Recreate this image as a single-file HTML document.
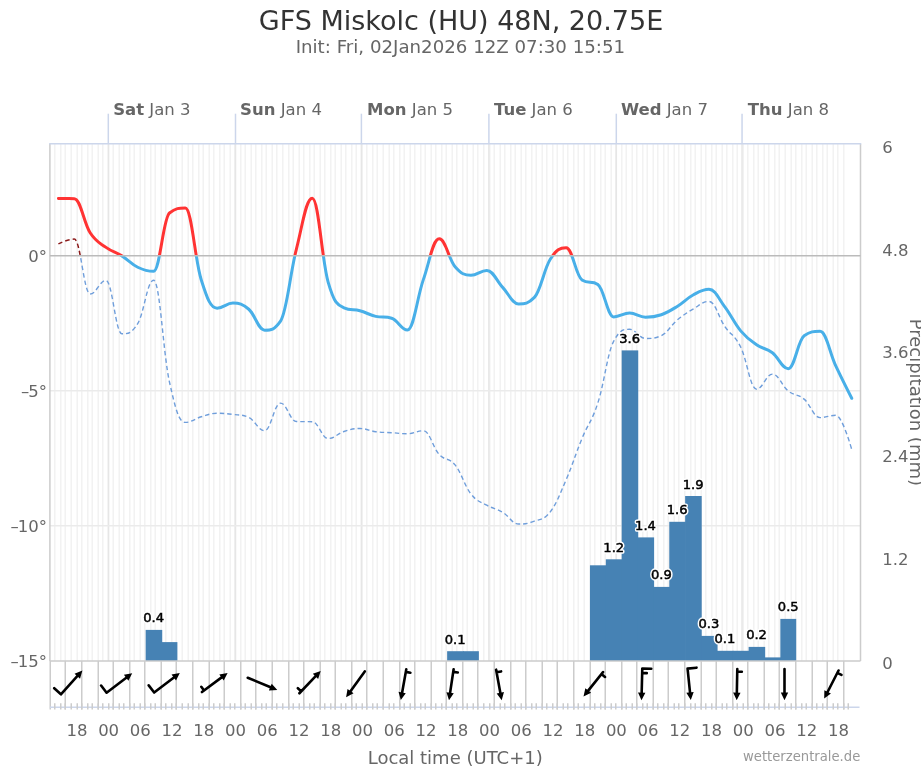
<!DOCTYPE html><html><head><meta charset="utf-8"><title>GFS Miskolc meteogram</title>
<style>html,body{margin:0;padding:0;background:#fff;overflow:hidden}svg{display:block;will-change:transform}text{font-family:"DejaVu Sans",Verdana,sans-serif}</style></head><body>
<svg width="921" height="768" viewBox="0 0 921 768">
<rect x="0" y="0" width="921" height="768" fill="#ffffff"/>
<defs><clipPath id="cpPos"><rect x="0" y="0" width="921" height="255.80"/></clipPath><clipPath id="cpNeg"><rect x="0" y="255.80" width="921" height="512.20"/></clipPath><clipPath id="cpPlot"><rect x="49.90" y="143.70" width="810.60" height="517.30"/></clipPath></defs>
<text x="461" y="30.1" text-anchor="middle" font-size="27" fill="#333333">GFS Miskolc (HU) 48N, 20.75E</text>
<text x="460.4" y="53" text-anchor="middle" font-size="18.2" fill="#666666">Init: Fri, 02Jan2026 12Z 07:30 15:51</text>
<path d="M54.75 143.70V661.00M60.75 143.70V661.00M65.25 143.70V661.00M71.25 143.70V661.00M77.25 143.70V661.00M81.75 143.70V661.00M87.75 143.70V661.00M92.25 143.70V661.00M98.25 143.70V661.00M102.75 143.70V661.00M108.75 143.70V661.00M113.25 143.70V661.00M119.25 143.70V661.00M123.75 143.70V661.00M129.75 143.70V661.00M134.25 143.70V661.00M140.25 143.70V661.00M144.75 143.70V661.00M150.75 143.70V661.00M155.25 143.70V661.00M161.25 143.70V661.00M165.75 143.70V661.00M171.75 143.70V661.00M176.25 143.70V661.00M182.25 143.70V661.00M188.25 143.70V661.00M192.75 143.70V661.00M198.75 143.70V661.00M203.25 143.70V661.00M209.25 143.70V661.00M213.75 143.70V661.00M219.75 143.70V661.00M224.25 143.70V661.00M230.25 143.70V661.00M234.75 143.70V661.00M240.75 143.70V661.00M245.25 143.70V661.00M251.25 143.70V661.00M255.75 143.70V661.00M261.75 143.70V661.00M266.25 143.70V661.00M272.25 143.70V661.00M276.75 143.70V661.00M282.75 143.70V661.00M288.75 143.70V661.00M293.25 143.70V661.00M299.25 143.70V661.00M303.75 143.70V661.00M309.75 143.70V661.00M314.25 143.70V661.00M320.25 143.70V661.00M324.75 143.70V661.00M330.75 143.70V661.00M335.25 143.70V661.00M341.25 143.70V661.00M345.75 143.70V661.00M351.75 143.70V661.00M356.25 143.70V661.00M362.25 143.70V661.00M366.75 143.70V661.00M372.75 143.70V661.00M377.25 143.70V661.00M383.25 143.70V661.00M389.25 143.70V661.00M393.75 143.70V661.00M399.75 143.70V661.00M404.25 143.70V661.00M410.25 143.70V661.00M414.75 143.70V661.00M420.75 143.70V661.00M425.25 143.70V661.00M431.25 143.70V661.00M435.75 143.70V661.00M441.75 143.70V661.00M446.25 143.70V661.00M452.25 143.70V661.00M456.75 143.70V661.00M462.75 143.70V661.00M467.25 143.70V661.00M473.25 143.70V661.00M477.75 143.70V661.00M483.75 143.70V661.00M489.75 143.70V661.00M494.25 143.70V661.00M500.25 143.70V661.00M504.75 143.70V661.00M510.75 143.70V661.00M515.25 143.70V661.00M521.25 143.70V661.00M525.75 143.70V661.00M531.75 143.70V661.00M536.25 143.70V661.00M542.25 143.70V661.00M546.75 143.70V661.00M552.75 143.70V661.00M557.25 143.70V661.00M563.25 143.70V661.00M567.75 143.70V661.00M573.75 143.70V661.00M578.25 143.70V661.00M584.25 143.70V661.00M590.25 143.70V661.00M594.75 143.70V661.00M600.75 143.70V661.00M605.25 143.70V661.00M611.25 143.70V661.00M615.75 143.70V661.00M621.75 143.70V661.00M626.25 143.70V661.00M632.25 143.70V661.00M636.75 143.70V661.00M642.75 143.70V661.00M647.25 143.70V661.00M653.25 143.70V661.00M657.75 143.70V661.00M663.75 143.70V661.00M668.25 143.70V661.00M674.25 143.70V661.00M678.75 143.70V661.00M684.75 143.70V661.00M690.75 143.70V661.00M695.25 143.70V661.00M701.25 143.70V661.00M705.75 143.70V661.00M711.75 143.70V661.00M716.25 143.70V661.00M722.25 143.70V661.00M726.75 143.70V661.00M732.75 143.70V661.00M737.25 143.70V661.00M743.25 143.70V661.00M747.75 143.70V661.00M753.75 143.70V661.00M758.25 143.70V661.00M764.25 143.70V661.00M768.75 143.70V661.00M774.75 143.70V661.00M779.25 143.70V661.00M785.25 143.70V661.00M791.25 143.70V661.00M795.75 143.70V661.00M801.75 143.70V661.00M806.25 143.70V661.00M812.25 143.70V661.00M816.75 143.70V661.00M822.75 143.70V661.00M827.25 143.70V661.00M833.25 143.70V661.00M837.75 143.70V661.00M843.75 143.70V661.00" stroke="#f2f2f2" stroke-width="1.5" fill="none"/>
<path d="M108.30 143.70V661.00M235.50 143.70V661.00M361.40 143.70V661.00M488.90 143.70V661.00M616.30 143.70V661.00M742.05 143.70V661.00" stroke="#e6e6e6" stroke-width="1.5" fill="none"/>
<path d="M49.90 390.75H860.50M49.90 525.75H860.50" stroke="#ebebeb" stroke-width="1.5" fill="none"/>
<rect x="145.66" y="629.90" width="16.57" height="31.10" fill="#4682b4"/>
<rect x="161.53" y="642.10" width="15.87" height="18.90" fill="#4682b4"/>
<rect x="447.14" y="651.20" width="16.57" height="9.80" fill="#4682b4"/>
<rect x="463.00" y="651.20" width="15.87" height="9.80" fill="#4682b4"/>
<rect x="589.94" y="565.30" width="16.57" height="95.70" fill="#4682b4"/>
<rect x="605.81" y="559.30" width="16.57" height="101.70" fill="#4682b4"/>
<rect x="621.67" y="350.40" width="16.57" height="310.60" fill="#4682b4"/>
<rect x="637.54" y="537.40" width="16.57" height="123.60" fill="#4682b4"/>
<rect x="653.41" y="586.90" width="16.57" height="74.10" fill="#4682b4"/>
<rect x="669.27" y="521.80" width="16.57" height="139.20" fill="#4682b4"/>
<rect x="685.14" y="496.00" width="16.57" height="165.00" fill="#4682b4"/>
<rect x="701.01" y="635.90" width="16.57" height="25.10" fill="#4682b4"/>
<rect x="716.88" y="650.80" width="16.57" height="10.20" fill="#4682b4"/>
<rect x="732.74" y="650.80" width="16.57" height="10.20" fill="#4682b4"/>
<rect x="748.61" y="646.90" width="16.57" height="14.10" fill="#4682b4"/>
<rect x="764.48" y="657.40" width="16.57" height="3.60" fill="#4682b4"/>
<rect x="780.34" y="618.90" width="15.87" height="42.10" fill="#4682b4"/>
<path d="M49.90 143.70V661.00M860.50 143.70V661.00M49.90 661.00H860.50" stroke="#cccccc" stroke-width="1.5" fill="none"/>
<g clip-path="url(#cpPlot)">
<path d="M 58.39 243.90 C 58.39 243.90 67.91 239.05 74.26 239.05 C 80.61 239.05 83.78 294.00 90.13 294.00 C 96.48 294.00 99.65 280.43 106.00 280.43 C 112.34 280.43 115.52 333.80 121.86 333.80 C 128.21 333.80 131.38 333.80 137.73 323.51 C 144.08 313.22 147.25 280.22 153.60 280.22 C 159.94 280.22 163.12 353.55 169.46 381.98 C 175.81 410.41 178.98 422.38 185.33 422.38 C 191.68 422.38 194.85 418.62 201.20 416.79 C 207.54 414.96 210.72 413.22 217.06 413.22 C 223.41 413.22 226.58 413.60 232.93 414.44 C 239.28 415.28 242.45 414.44 248.80 417.43 C 255.15 420.41 258.32 430.68 264.67 430.68 C 271.01 430.68 274.19 403.10 280.53 403.10 C 286.88 403.10 290.05 421.37 296.40 421.54 C 302.75 421.71 305.92 421.54 312.27 421.71 C 318.61 421.88 321.79 438.53 328.13 438.53 C 334.48 438.53 337.65 433.48 344.00 431.47 C 350.35 429.45 353.52 428.47 359.87 428.47 C 366.21 428.47 369.39 430.87 375.73 431.71 C 382.08 432.55 385.25 432.26 391.60 432.68 C 397.95 433.09 401.12 433.79 407.47 433.79 C 413.82 433.79 416.99 430.74 423.34 430.74 C 429.68 430.74 432.86 447.65 439.20 454.48 C 445.55 461.31 448.72 456.99 455.07 464.89 C 461.42 472.79 464.59 485.91 470.94 493.97 C 477.28 502.04 480.46 501.55 486.80 505.21 C 493.15 508.86 496.32 508.47 502.67 512.24 C 509.02 516.01 512.19 524.07 518.54 524.07 C 524.88 524.07 528.06 523.58 534.40 521.14 C 540.75 518.70 543.92 520.14 550.27 511.85 C 556.62 503.56 559.79 494.39 566.14 479.70 C 572.49 465.02 575.66 453.79 582.01 438.42 C 588.35 423.05 591.53 422.33 597.87 402.87 C 604.22 383.41 607.39 352.93 613.74 341.12 C 620.09 329.30 623.26 329.30 629.61 329.30 C 635.95 329.30 639.13 338.48 645.47 338.48 C 651.82 338.48 654.99 338.48 661.34 335.62 C 667.69 332.75 670.86 325.36 677.21 320.06 C 683.55 314.76 686.73 312.86 693.07 309.12 C 699.42 305.39 702.59 301.40 708.94 301.40 C 715.29 301.40 718.46 317.33 724.81 326.45 C 731.16 335.58 734.33 334.50 740.68 347.05 C 747.02 359.60 750.20 389.20 756.54 389.20 C 762.89 389.20 766.06 374.11 772.41 374.11 C 778.76 374.11 781.93 386.07 788.28 391.08 C 794.62 396.09 797.80 393.83 804.14 399.14 C 810.49 404.45 813.66 417.63 820.01 417.63 C 826.36 417.63 829.53 415.25 835.88 415.25 C 842.22 415.25 851.74 449.50 851.74 449.50" clip-path="url(#cpPos)" stroke="#8b1a1a" stroke-width="1.5" stroke-dasharray="4.5 3" fill="none"/>
<path d="M 58.39 243.90 C 58.39 243.90 67.91 239.05 74.26 239.05 C 80.61 239.05 83.78 294.00 90.13 294.00 C 96.48 294.00 99.65 280.43 106.00 280.43 C 112.34 280.43 115.52 333.80 121.86 333.80 C 128.21 333.80 131.38 333.80 137.73 323.51 C 144.08 313.22 147.25 280.22 153.60 280.22 C 159.94 280.22 163.12 353.55 169.46 381.98 C 175.81 410.41 178.98 422.38 185.33 422.38 C 191.68 422.38 194.85 418.62 201.20 416.79 C 207.54 414.96 210.72 413.22 217.06 413.22 C 223.41 413.22 226.58 413.60 232.93 414.44 C 239.28 415.28 242.45 414.44 248.80 417.43 C 255.15 420.41 258.32 430.68 264.67 430.68 C 271.01 430.68 274.19 403.10 280.53 403.10 C 286.88 403.10 290.05 421.37 296.40 421.54 C 302.75 421.71 305.92 421.54 312.27 421.71 C 318.61 421.88 321.79 438.53 328.13 438.53 C 334.48 438.53 337.65 433.48 344.00 431.47 C 350.35 429.45 353.52 428.47 359.87 428.47 C 366.21 428.47 369.39 430.87 375.73 431.71 C 382.08 432.55 385.25 432.26 391.60 432.68 C 397.95 433.09 401.12 433.79 407.47 433.79 C 413.82 433.79 416.99 430.74 423.34 430.74 C 429.68 430.74 432.86 447.65 439.20 454.48 C 445.55 461.31 448.72 456.99 455.07 464.89 C 461.42 472.79 464.59 485.91 470.94 493.97 C 477.28 502.04 480.46 501.55 486.80 505.21 C 493.15 508.86 496.32 508.47 502.67 512.24 C 509.02 516.01 512.19 524.07 518.54 524.07 C 524.88 524.07 528.06 523.58 534.40 521.14 C 540.75 518.70 543.92 520.14 550.27 511.85 C 556.62 503.56 559.79 494.39 566.14 479.70 C 572.49 465.02 575.66 453.79 582.01 438.42 C 588.35 423.05 591.53 422.33 597.87 402.87 C 604.22 383.41 607.39 352.93 613.74 341.12 C 620.09 329.30 623.26 329.30 629.61 329.30 C 635.95 329.30 639.13 338.48 645.47 338.48 C 651.82 338.48 654.99 338.48 661.34 335.62 C 667.69 332.75 670.86 325.36 677.21 320.06 C 683.55 314.76 686.73 312.86 693.07 309.12 C 699.42 305.39 702.59 301.40 708.94 301.40 C 715.29 301.40 718.46 317.33 724.81 326.45 C 731.16 335.58 734.33 334.50 740.68 347.05 C 747.02 359.60 750.20 389.20 756.54 389.20 C 762.89 389.20 766.06 374.11 772.41 374.11 C 778.76 374.11 781.93 386.07 788.28 391.08 C 794.62 396.09 797.80 393.83 804.14 399.14 C 810.49 404.45 813.66 417.63 820.01 417.63 C 826.36 417.63 829.53 415.25 835.88 415.25 C 842.22 415.25 851.74 449.50 851.74 449.50" clip-path="url(#cpNeg)" stroke="#6f9edb" stroke-width="1.4" stroke-dasharray="4.5 3" fill="none"/>
<path d="M 58.39 198.60 C 58.39 198.60 67.91 198.60 74.26 198.65 C 80.61 198.69 83.78 223.00 90.13 232.75 C 96.48 242.50 99.65 242.77 106.00 247.40 C 112.34 252.02 115.52 251.89 121.86 255.86 C 128.21 259.84 131.38 264.17 137.73 267.25 C 144.08 270.34 147.25 271.29 153.60 271.29 C 159.94 271.29 163.12 217.86 169.46 212.94 C 175.81 208.03 178.98 208.03 185.33 208.03 C 191.68 208.03 194.85 259.66 201.20 279.69 C 207.54 299.71 210.72 308.15 217.06 308.15 C 223.41 308.15 226.58 302.97 232.93 302.97 C 239.28 302.97 242.45 303.80 248.80 309.24 C 255.15 314.67 258.32 330.16 264.67 330.16 C 271.01 330.16 274.19 330.16 280.53 321.12 C 286.88 312.08 290.05 273.62 296.40 249.04 C 302.75 224.46 305.92 198.23 312.27 198.23 C 318.61 198.23 321.79 260.14 328.13 282.08 C 334.48 304.02 337.65 305.03 344.00 307.91 C 350.35 310.78 353.52 309.09 359.87 310.78 C 366.21 312.47 369.39 314.86 375.73 316.34 C 382.08 317.82 385.25 316.34 391.60 318.19 C 397.95 320.04 401.12 329.90 407.47 329.90 C 413.82 329.90 416.99 297.84 423.34 279.63 C 429.68 261.42 432.86 238.85 439.20 238.85 C 445.55 238.85 448.72 259.43 455.07 266.72 C 461.42 274.01 464.59 275.28 470.94 275.28 C 477.28 275.28 480.46 270.39 486.80 270.39 C 493.15 270.39 496.32 280.70 502.67 287.39 C 509.02 294.09 512.19 303.88 518.54 303.88 C 524.88 303.88 528.06 303.88 534.40 297.40 C 540.75 290.93 543.92 269.17 550.27 259.25 C 556.62 249.33 559.79 247.82 566.14 247.82 C 572.49 247.82 575.66 275.62 582.01 280.02 C 588.35 284.42 591.53 280.02 597.87 284.42 C 604.22 288.81 607.39 316.89 613.74 316.89 C 620.09 316.89 623.26 313.07 629.61 313.07 C 635.95 313.07 639.13 317.13 645.47 317.13 C 651.82 317.13 654.99 316.85 661.34 314.71 C 667.69 312.57 670.86 310.37 677.21 306.43 C 683.55 302.50 686.73 298.47 693.07 295.04 C 699.42 291.60 702.59 289.26 708.94 289.26 C 715.29 289.26 718.46 298.54 724.81 306.86 C 731.16 315.18 734.33 323.28 740.68 330.85 C 747.02 338.42 750.20 340.35 756.54 344.73 C 762.89 349.11 766.06 347.96 772.41 352.75 C 778.76 357.55 781.93 368.70 788.28 368.70 C 794.62 368.70 797.80 340.34 804.14 335.81 C 810.49 331.29 813.66 331.29 820.01 331.29 C 826.36 331.29 829.53 352.74 835.88 366.15 C 842.22 379.55 851.74 398.30 851.74 398.30" clip-path="url(#cpPos)" stroke="#ff3333" stroke-width="3" stroke-linecap="round" stroke-linejoin="round" fill="none"/>
<path d="M 58.39 198.60 C 58.39 198.60 67.91 198.60 74.26 198.65 C 80.61 198.69 83.78 223.00 90.13 232.75 C 96.48 242.50 99.65 242.77 106.00 247.40 C 112.34 252.02 115.52 251.89 121.86 255.86 C 128.21 259.84 131.38 264.17 137.73 267.25 C 144.08 270.34 147.25 271.29 153.60 271.29 C 159.94 271.29 163.12 217.86 169.46 212.94 C 175.81 208.03 178.98 208.03 185.33 208.03 C 191.68 208.03 194.85 259.66 201.20 279.69 C 207.54 299.71 210.72 308.15 217.06 308.15 C 223.41 308.15 226.58 302.97 232.93 302.97 C 239.28 302.97 242.45 303.80 248.80 309.24 C 255.15 314.67 258.32 330.16 264.67 330.16 C 271.01 330.16 274.19 330.16 280.53 321.12 C 286.88 312.08 290.05 273.62 296.40 249.04 C 302.75 224.46 305.92 198.23 312.27 198.23 C 318.61 198.23 321.79 260.14 328.13 282.08 C 334.48 304.02 337.65 305.03 344.00 307.91 C 350.35 310.78 353.52 309.09 359.87 310.78 C 366.21 312.47 369.39 314.86 375.73 316.34 C 382.08 317.82 385.25 316.34 391.60 318.19 C 397.95 320.04 401.12 329.90 407.47 329.90 C 413.82 329.90 416.99 297.84 423.34 279.63 C 429.68 261.42 432.86 238.85 439.20 238.85 C 445.55 238.85 448.72 259.43 455.07 266.72 C 461.42 274.01 464.59 275.28 470.94 275.28 C 477.28 275.28 480.46 270.39 486.80 270.39 C 493.15 270.39 496.32 280.70 502.67 287.39 C 509.02 294.09 512.19 303.88 518.54 303.88 C 524.88 303.88 528.06 303.88 534.40 297.40 C 540.75 290.93 543.92 269.17 550.27 259.25 C 556.62 249.33 559.79 247.82 566.14 247.82 C 572.49 247.82 575.66 275.62 582.01 280.02 C 588.35 284.42 591.53 280.02 597.87 284.42 C 604.22 288.81 607.39 316.89 613.74 316.89 C 620.09 316.89 623.26 313.07 629.61 313.07 C 635.95 313.07 639.13 317.13 645.47 317.13 C 651.82 317.13 654.99 316.85 661.34 314.71 C 667.69 312.57 670.86 310.37 677.21 306.43 C 683.55 302.50 686.73 298.47 693.07 295.04 C 699.42 291.60 702.59 289.26 708.94 289.26 C 715.29 289.26 718.46 298.54 724.81 306.86 C 731.16 315.18 734.33 323.28 740.68 330.85 C 747.02 338.42 750.20 340.35 756.54 344.73 C 762.89 349.11 766.06 347.96 772.41 352.75 C 778.76 357.55 781.93 368.70 788.28 368.70 C 794.62 368.70 797.80 340.34 804.14 335.81 C 810.49 331.29 813.66 331.29 820.01 331.29 C 826.36 331.29 829.53 352.74 835.88 366.15 C 842.22 379.55 851.74 398.30 851.74 398.30" clip-path="url(#cpNeg)" stroke="#48afe8" stroke-width="3" stroke-linecap="round" stroke-linejoin="round" fill="none"/>
</g>
<path d="M49.90 255.80H860.50" stroke="#bbbbbb" stroke-width="1.5"/>
<text x="153.60" y="622.40" text-anchor="middle" font-family="DejaVu Sans Condensed, DejaVu Sans, sans-serif" font-size="13.1" fill="#fff" stroke="#fff" stroke-width="3.4" stroke-linejoin="round">0.4</text>
<text x="153.60" y="622.40" text-anchor="middle" font-family="DejaVu Sans Condensed, DejaVu Sans, sans-serif" font-size="13.1" fill="#000" stroke="#000" stroke-width="0.5">0.4</text>
<text x="455.07" y="643.70" text-anchor="middle" font-family="DejaVu Sans Condensed, DejaVu Sans, sans-serif" font-size="13.1" fill="#fff" stroke="#fff" stroke-width="3.4" stroke-linejoin="round">0.1</text>
<text x="455.07" y="643.70" text-anchor="middle" font-family="DejaVu Sans Condensed, DejaVu Sans, sans-serif" font-size="13.1" fill="#000" stroke="#000" stroke-width="0.5">0.1</text>
<text x="613.74" y="551.80" text-anchor="middle" font-family="DejaVu Sans Condensed, DejaVu Sans, sans-serif" font-size="13.1" fill="#fff" stroke="#fff" stroke-width="3.4" stroke-linejoin="round">1.2</text>
<text x="613.74" y="551.80" text-anchor="middle" font-family="DejaVu Sans Condensed, DejaVu Sans, sans-serif" font-size="13.1" fill="#000" stroke="#000" stroke-width="0.5">1.2</text>
<text x="629.61" y="342.90" text-anchor="middle" font-family="DejaVu Sans Condensed, DejaVu Sans, sans-serif" font-size="13.1" fill="#fff" stroke="#fff" stroke-width="3.4" stroke-linejoin="round">3.6</text>
<text x="629.61" y="342.90" text-anchor="middle" font-family="DejaVu Sans Condensed, DejaVu Sans, sans-serif" font-size="13.1" fill="#000" stroke="#000" stroke-width="0.5">3.6</text>
<text x="645.47" y="529.90" text-anchor="middle" font-family="DejaVu Sans Condensed, DejaVu Sans, sans-serif" font-size="13.1" fill="#fff" stroke="#fff" stroke-width="3.4" stroke-linejoin="round">1.4</text>
<text x="645.47" y="529.90" text-anchor="middle" font-family="DejaVu Sans Condensed, DejaVu Sans, sans-serif" font-size="13.1" fill="#000" stroke="#000" stroke-width="0.5">1.4</text>
<text x="661.34" y="579.40" text-anchor="middle" font-family="DejaVu Sans Condensed, DejaVu Sans, sans-serif" font-size="13.1" fill="#fff" stroke="#fff" stroke-width="3.4" stroke-linejoin="round">0.9</text>
<text x="661.34" y="579.40" text-anchor="middle" font-family="DejaVu Sans Condensed, DejaVu Sans, sans-serif" font-size="13.1" fill="#000" stroke="#000" stroke-width="0.5">0.9</text>
<text x="677.21" y="514.30" text-anchor="middle" font-family="DejaVu Sans Condensed, DejaVu Sans, sans-serif" font-size="13.1" fill="#fff" stroke="#fff" stroke-width="3.4" stroke-linejoin="round">1.6</text>
<text x="677.21" y="514.30" text-anchor="middle" font-family="DejaVu Sans Condensed, DejaVu Sans, sans-serif" font-size="13.1" fill="#000" stroke="#000" stroke-width="0.5">1.6</text>
<text x="693.07" y="488.50" text-anchor="middle" font-family="DejaVu Sans Condensed, DejaVu Sans, sans-serif" font-size="13.1" fill="#fff" stroke="#fff" stroke-width="3.4" stroke-linejoin="round">1.9</text>
<text x="693.07" y="488.50" text-anchor="middle" font-family="DejaVu Sans Condensed, DejaVu Sans, sans-serif" font-size="13.1" fill="#000" stroke="#000" stroke-width="0.5">1.9</text>
<text x="708.94" y="628.40" text-anchor="middle" font-family="DejaVu Sans Condensed, DejaVu Sans, sans-serif" font-size="13.1" fill="#fff" stroke="#fff" stroke-width="3.4" stroke-linejoin="round">0.3</text>
<text x="708.94" y="628.40" text-anchor="middle" font-family="DejaVu Sans Condensed, DejaVu Sans, sans-serif" font-size="13.1" fill="#000" stroke="#000" stroke-width="0.5">0.3</text>
<text x="724.81" y="643.30" text-anchor="middle" font-family="DejaVu Sans Condensed, DejaVu Sans, sans-serif" font-size="13.1" fill="#fff" stroke="#fff" stroke-width="3.4" stroke-linejoin="round">0.1</text>
<text x="724.81" y="643.30" text-anchor="middle" font-family="DejaVu Sans Condensed, DejaVu Sans, sans-serif" font-size="13.1" fill="#000" stroke="#000" stroke-width="0.5">0.1</text>
<text x="756.54" y="639.40" text-anchor="middle" font-family="DejaVu Sans Condensed, DejaVu Sans, sans-serif" font-size="13.1" fill="#fff" stroke="#fff" stroke-width="3.4" stroke-linejoin="round">0.2</text>
<text x="756.54" y="639.40" text-anchor="middle" font-family="DejaVu Sans Condensed, DejaVu Sans, sans-serif" font-size="13.1" fill="#000" stroke="#000" stroke-width="0.5">0.2</text>
<text x="788.28" y="611.40" text-anchor="middle" font-family="DejaVu Sans Condensed, DejaVu Sans, sans-serif" font-size="13.1" fill="#fff" stroke="#fff" stroke-width="3.4" stroke-linejoin="round">0.5</text>
<text x="788.28" y="611.40" text-anchor="middle" font-family="DejaVu Sans Condensed, DejaVu Sans, sans-serif" font-size="13.1" fill="#000" stroke="#000" stroke-width="0.5">0.5</text>
<path d="M49.15 143.70H861.25" stroke="#ccd6eb" stroke-width="1.5"/>
<path d="M108.30 113.7V143.70" stroke="#ccd6eb" stroke-width="1.5"/>
<text x="113.14" y="115" font-size="16.5" fill="#666666"><tspan font-weight="bold">Sat</tspan> Jan 3</text>
<path d="M235.50 113.7V143.70" stroke="#ccd6eb" stroke-width="1.5"/>
<text x="240.08" y="115" font-size="16.5" fill="#666666"><tspan font-weight="bold">Sun</tspan> Jan 4</text>
<path d="M361.40 113.7V143.70" stroke="#ccd6eb" stroke-width="1.5"/>
<text x="367.01" y="115" font-size="16.5" fill="#666666"><tspan font-weight="bold">Mon</tspan> Jan 5</text>
<path d="M488.90 113.7V143.70" stroke="#ccd6eb" stroke-width="1.5"/>
<text x="493.95" y="115" font-size="16.5" fill="#666666"><tspan font-weight="bold">Tue</tspan> Jan 6</text>
<path d="M616.30 113.7V143.70" stroke="#ccd6eb" stroke-width="1.5"/>
<text x="620.88" y="115" font-size="16.5" fill="#666666"><tspan font-weight="bold">Wed</tspan> Jan 7</text>
<path d="M742.05 113.7V143.70" stroke="#ccd6eb" stroke-width="1.5"/>
<text x="747.82" y="115" font-size="16.5" fill="#666666"><tspan font-weight="bold">Thu</tspan> Jan 8</text>
<text x="47.1" y="261.70" text-anchor="end" font-size="16.5" fill="#666666">0°</text>
<text x="47.1" y="396.75" text-anchor="end" font-size="16.5" fill="#666666">–<tspan dx="-1">5°</tspan></text>
<text x="47.1" y="531.80" text-anchor="end" font-size="16.5" fill="#666666">–<tspan dx="-1">10°</tspan></text>
<text x="47.1" y="666.85" text-anchor="end" font-size="16.5" fill="#666666">–<tspan dx="-1">15°</tspan></text>
<text x="882.2" y="152.75" font-size="16.5" fill="#666666">6</text>
<text x="882.2" y="255.85" font-size="16.5" fill="#666666">4.8</text>
<text x="882.2" y="358.25" font-size="16.5" fill="#666666">3.6</text>
<text x="882.2" y="461.65" font-size="16.5" fill="#666666">2.4</text>
<text x="882.2" y="564.65" font-size="16.5" fill="#666666">1.2</text>
<text x="882.2" y="669.05" font-size="16.5" fill="#666666">0</text>
<text transform="translate(909.6 402.3) rotate(90)" text-anchor="middle" font-size="18" fill="#666666">Precipitation (mm)</text>
<path d="M50.25 661.00V709.50M65.25 661.00V709.50M81.75 661.00V709.50M98.25 661.00V709.50M113.25 661.00V709.50M129.75 661.00V709.50M144.75 661.00V709.50M161.25 661.00V709.50M176.25 661.00V709.50M192.75 661.00V709.50M209.25 661.00V709.50M224.25 661.00V709.50M240.75 661.00V709.50M255.75 661.00V709.50M272.25 661.00V709.50M288.75 661.00V709.50M303.75 661.00V709.50M320.25 661.00V709.50M335.25 661.00V709.50M351.75 661.00V709.50M366.75 661.00V709.50M383.25 661.00V709.50M399.75 661.00V709.50M414.75 661.00V709.50M431.25 661.00V709.50M446.25 661.00V709.50M462.75 661.00V709.50M477.75 661.00V709.50M494.25 661.00V709.50M510.75 661.00V709.50M525.75 661.00V709.50M542.25 661.00V709.50M557.25 661.00V709.50M573.75 661.00V709.50M590.25 661.00V709.50M605.25 661.00V709.50M621.75 661.00V709.50M636.75 661.00V709.50M653.25 661.00V709.50M668.25 661.00V709.50M684.75 661.00V709.50M701.25 661.00V709.50M716.25 661.00V709.50M732.75 661.00V709.50M747.75 661.00V709.50M764.25 661.00V709.50M779.25 661.00V709.50M795.75 661.00V709.50M812.25 661.00V709.50M827.25 661.00V709.50M843.75 661.00V709.50" stroke="#cccccc" stroke-width="1.5" fill="none"/>
<path d="M49.90 707.3H859.5" stroke="#ccd6eb" stroke-width="1.5"/>
<path d="M54.75 703.3V709.6M60.75 703.3V709.6M65.25 703.3V709.6M71.25 703.3V709.6M77.25 703.3V709.6M81.75 703.3V709.6M87.75 703.3V709.6M92.25 703.3V709.6M98.25 703.3V709.6M102.75 703.3V709.6M108.75 703.3V709.6M113.25 703.3V709.6M119.25 703.3V709.6M123.75 703.3V709.6M129.75 703.3V709.6M134.25 703.3V709.6M140.25 703.3V709.6M144.75 703.3V709.6M150.75 703.3V709.6M155.25 703.3V709.6M161.25 703.3V709.6M165.75 703.3V709.6M171.75 703.3V709.6M176.25 703.3V709.6M182.25 703.3V709.6M188.25 703.3V709.6M192.75 703.3V709.6M198.75 703.3V709.6M203.25 703.3V709.6M209.25 703.3V709.6M213.75 703.3V709.6M219.75 703.3V709.6M224.25 703.3V709.6M230.25 703.3V709.6M234.75 703.3V709.6M240.75 703.3V709.6M245.25 703.3V709.6M251.25 703.3V709.6M255.75 703.3V709.6M261.75 703.3V709.6M266.25 703.3V709.6M272.25 703.3V709.6M276.75 703.3V709.6M282.75 703.3V709.6M288.75 703.3V709.6M293.25 703.3V709.6M299.25 703.3V709.6M303.75 703.3V709.6M309.75 703.3V709.6M314.25 703.3V709.6M320.25 703.3V709.6M324.75 703.3V709.6M330.75 703.3V709.6M335.25 703.3V709.6M341.25 703.3V709.6M345.75 703.3V709.6M351.75 703.3V709.6M356.25 703.3V709.6M362.25 703.3V709.6M366.75 703.3V709.6M372.75 703.3V709.6M377.25 703.3V709.6M383.25 703.3V709.6M389.25 703.3V709.6M393.75 703.3V709.6M399.75 703.3V709.6M404.25 703.3V709.6M410.25 703.3V709.6M414.75 703.3V709.6M420.75 703.3V709.6M425.25 703.3V709.6M431.25 703.3V709.6M435.75 703.3V709.6M441.75 703.3V709.6M446.25 703.3V709.6M452.25 703.3V709.6M456.75 703.3V709.6M462.75 703.3V709.6M467.25 703.3V709.6M473.25 703.3V709.6M477.75 703.3V709.6M483.75 703.3V709.6M489.75 703.3V709.6M494.25 703.3V709.6M500.25 703.3V709.6M504.75 703.3V709.6M510.75 703.3V709.6M515.25 703.3V709.6M521.25 703.3V709.6M525.75 703.3V709.6M531.75 703.3V709.6M536.25 703.3V709.6M542.25 703.3V709.6M546.75 703.3V709.6M552.75 703.3V709.6M557.25 703.3V709.6M563.25 703.3V709.6M567.75 703.3V709.6M573.75 703.3V709.6M578.25 703.3V709.6M584.25 703.3V709.6M590.25 703.3V709.6M594.75 703.3V709.6M600.75 703.3V709.6M605.25 703.3V709.6M611.25 703.3V709.6M615.75 703.3V709.6M621.75 703.3V709.6M626.25 703.3V709.6M632.25 703.3V709.6M636.75 703.3V709.6M642.75 703.3V709.6M647.25 703.3V709.6M653.25 703.3V709.6M657.75 703.3V709.6M663.75 703.3V709.6M668.25 703.3V709.6M674.25 703.3V709.6M678.75 703.3V709.6M684.75 703.3V709.6M690.75 703.3V709.6M695.25 703.3V709.6M701.25 703.3V709.6M705.75 703.3V709.6M711.75 703.3V709.6M716.25 703.3V709.6M722.25 703.3V709.6M726.75 703.3V709.6M732.75 703.3V709.6M737.25 703.3V709.6M743.25 703.3V709.6M747.75 703.3V709.6M753.75 703.3V709.6M758.25 703.3V709.6M764.25 703.3V709.6M768.75 703.3V709.6M774.75 703.3V709.6M779.25 703.3V709.6M785.25 703.3V709.6M791.25 703.3V709.6M795.75 703.3V709.6M801.75 703.3V709.6M806.25 703.3V709.6M812.25 703.3V709.6M816.75 703.3V709.6M822.75 703.3V709.6M827.25 703.3V709.6M833.25 703.3V709.6M837.75 703.3V709.6M843.75 703.3V709.6M848.25 703.3V709.6" stroke="#cccccc" stroke-width="1.5" fill="none"/>
<text x="76.91" y="735.8" text-anchor="middle" font-size="16.5" fill="#666666">18</text>
<text x="108.64" y="735.8" text-anchor="middle" font-size="16.5" fill="#666666">00</text>
<text x="140.37" y="735.8" text-anchor="middle" font-size="16.5" fill="#666666">06</text>
<text x="172.11" y="735.8" text-anchor="middle" font-size="16.5" fill="#666666">12</text>
<text x="203.84" y="735.8" text-anchor="middle" font-size="16.5" fill="#666666">18</text>
<text x="235.58" y="735.8" text-anchor="middle" font-size="16.5" fill="#666666">00</text>
<text x="267.31" y="735.8" text-anchor="middle" font-size="16.5" fill="#666666">06</text>
<text x="299.04" y="735.8" text-anchor="middle" font-size="16.5" fill="#666666">12</text>
<text x="330.78" y="735.8" text-anchor="middle" font-size="16.5" fill="#666666">18</text>
<text x="362.51" y="735.8" text-anchor="middle" font-size="16.5" fill="#666666">00</text>
<text x="394.25" y="735.8" text-anchor="middle" font-size="16.5" fill="#666666">06</text>
<text x="425.98" y="735.8" text-anchor="middle" font-size="16.5" fill="#666666">12</text>
<text x="457.71" y="735.8" text-anchor="middle" font-size="16.5" fill="#666666">18</text>
<text x="489.45" y="735.8" text-anchor="middle" font-size="16.5" fill="#666666">00</text>
<text x="521.18" y="735.8" text-anchor="middle" font-size="16.5" fill="#666666">06</text>
<text x="552.92" y="735.8" text-anchor="middle" font-size="16.5" fill="#666666">12</text>
<text x="584.65" y="735.8" text-anchor="middle" font-size="16.5" fill="#666666">18</text>
<text x="616.38" y="735.8" text-anchor="middle" font-size="16.5" fill="#666666">00</text>
<text x="648.12" y="735.8" text-anchor="middle" font-size="16.5" fill="#666666">06</text>
<text x="679.85" y="735.8" text-anchor="middle" font-size="16.5" fill="#666666">12</text>
<text x="711.59" y="735.8" text-anchor="middle" font-size="16.5" fill="#666666">18</text>
<text x="743.32" y="735.8" text-anchor="middle" font-size="16.5" fill="#666666">00</text>
<text x="775.05" y="735.8" text-anchor="middle" font-size="16.5" fill="#666666">06</text>
<text x="806.79" y="735.8" text-anchor="middle" font-size="16.5" fill="#666666">12</text>
<text x="838.52" y="735.8" text-anchor="middle" font-size="16.5" fill="#666666">18</text>
<text x="455.2" y="764" text-anchor="middle" font-size="18" fill="#666666">Local time (UTC+1)</text>
<text x="860.3" y="760.6" text-anchor="end" font-size="13.2" fill="#999999">wetterzentrale.de</text>
<path d="M60.90 694.26L77.96 675.48M60.90 694.26L54.24 688.20M106.58 692.74L126.95 677.20M106.58 692.74L101.12 685.58M154.18 692.54L174.56 676.91M154.18 692.54L148.70 685.39M201.98 692.04L222.31 676.85M204.06 690.48L201.31 686.80M247.75 677.73L271.20 687.47M299.41 693.27L316.15 675.68M301.21 691.38L297.87 688.21M364.75 671.39L349.96 691.94M406.29 669.29L401.96 693.50M405.84 671.85L410.36 672.66M453.61 669.29L449.97 693.67M453.23 671.86L457.78 672.54M496.11 669.69L500.51 693.71M496.58 672.25L501.10 671.42M603.03 672.07L587.62 691.34M601.40 674.10L605.00 676.97M642.29 668.60L641.66 693.60M642.29 668.60L651.28 668.82M642.18 673.00L646.77 673.11M687.56 668.60L690.12 693.43M687.56 668.60L696.51 667.67M737.29 669.10L736.82 693.60M737.24 671.70L741.84 671.79M784.50 669.10L784.50 693.60M838.53 670.53L827.20 692.72M837.35 672.85L841.44 674.94" stroke="#000" stroke-width="2.6" stroke-linecap="round" stroke-linejoin="round" fill="none"/>
<path d="M82.40 670.60L74.55 673.74L80.03 678.71ZM132.20 673.20L123.91 674.87L128.40 680.75ZM179.80 672.90L171.52 674.59L176.02 680.46ZM227.60 672.90L219.30 674.48L223.73 680.41ZM277.30 690.00L271.70 683.67L268.86 690.50ZM320.70 670.90L312.78 673.85L318.14 678.96ZM346.10 697.30L353.54 693.29L347.54 688.97ZM400.80 700.00L405.78 693.17L398.50 691.87ZM449.00 700.20L453.78 693.23L446.46 692.14ZM501.70 700.20L503.97 692.06L496.69 693.39ZM583.50 696.50L591.14 692.87L585.35 688.25ZM641.50 700.20L645.39 692.69L637.99 692.51ZM690.80 700.00L693.70 692.06L686.34 692.82ZM736.70 700.20L740.54 692.67L733.14 692.53ZM784.50 700.20L788.20 692.60L780.80 692.60ZM824.20 698.60L830.95 693.51L824.36 690.15Z" fill="#000"/>
</svg></body></html>
